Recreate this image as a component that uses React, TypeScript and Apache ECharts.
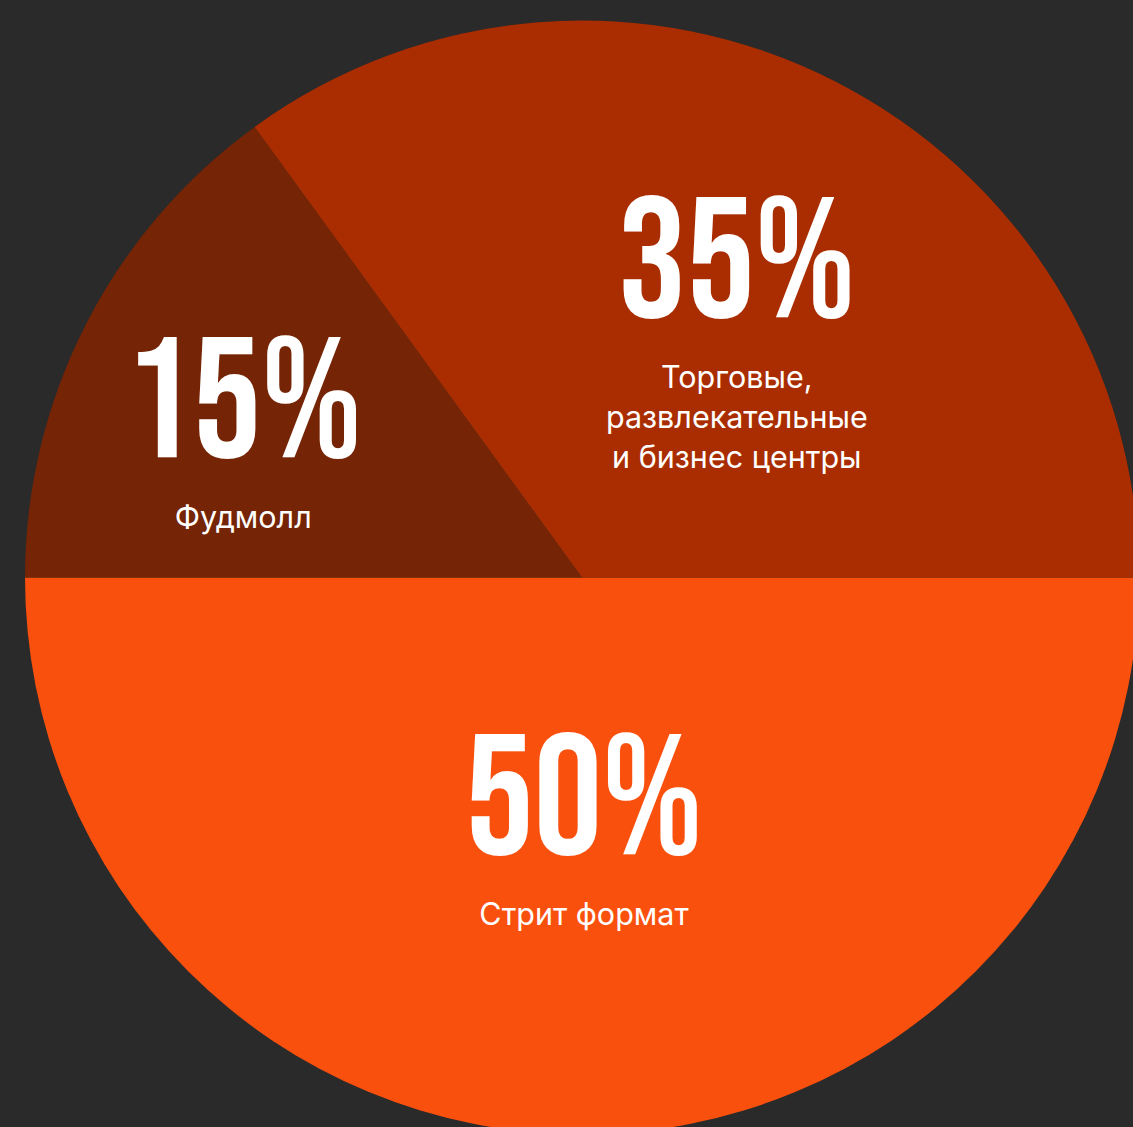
import React, { useEffect, useRef } from "react";
import * as echarts from "echarts";

const categories = ["Стрит формат", "Фудмолл", "Торговые,\nразвлекательные\nи бизнес центры"];
const values = [50, 15, 35];
const colors = ["#F9500E", "#752405", "#A92D00"];
const labelShift: [number, number][] = [
  [2, -37],
  [-88, -24],
  [27, -1],
];

export default function App() {
  const ref = useRef<HTMLDivElement>(null);
  useEffect(() => {
    if (!ref.current) return;
    const chart = echarts.init(ref.current, undefined, { renderer: "svg" });
    chart.setOption({
      animation: false,
      backgroundColor: "#2A2A2A",
      series: [
        {
          type: "pie",
          center: [582, 577.5],
          radius: [0, 557],
          startAngle: 0,
          clockwise: true,
          silent: true,
          data: categories.map((name, i) => ({
            name,
            value: values[i],
            itemStyle: { color: colors[i] },
          })),
          label: {
            show: true,
            position: "inside",
            align: "center",
            formatter: (p: any) => {
              const lines = String(p.name).split("\n").map((l) => `{s|${l}}`).join("\n");
              return `{p|${p.value}%}\n${lines}`;
            },
            rich: {
              p: {
                fontFamily: "'Bebas Neue', 'Oswald', sans-serif",
                fontSize: 171,
                lineHeight: 182,
                color: "#FFFFFF",
                align: "center",
              },
              s: {
                fontFamily: "Inter, Roboto, sans-serif",
                fontSize: 30.5,
                lineHeight: 40,
                color: "#FFFFFF",
                align: "center",
              },
            },
          },
          labelLine: { show: false },
          labelLayout: (params: any) => ({
            dx: labelShift[params.dataIndex][0],
            dy: labelShift[params.dataIndex][1],
            hideOverlap: false,
          }),
          emphasis: { disabled: true },
        },
      ],
    });
    return () => chart.dispose();
  }, []);
  return (
    <div
      ref={ref}
      style={{ position: "absolute", left: 0, top: 0, width: 1133, height: 1127 }}
    />
  );
}
